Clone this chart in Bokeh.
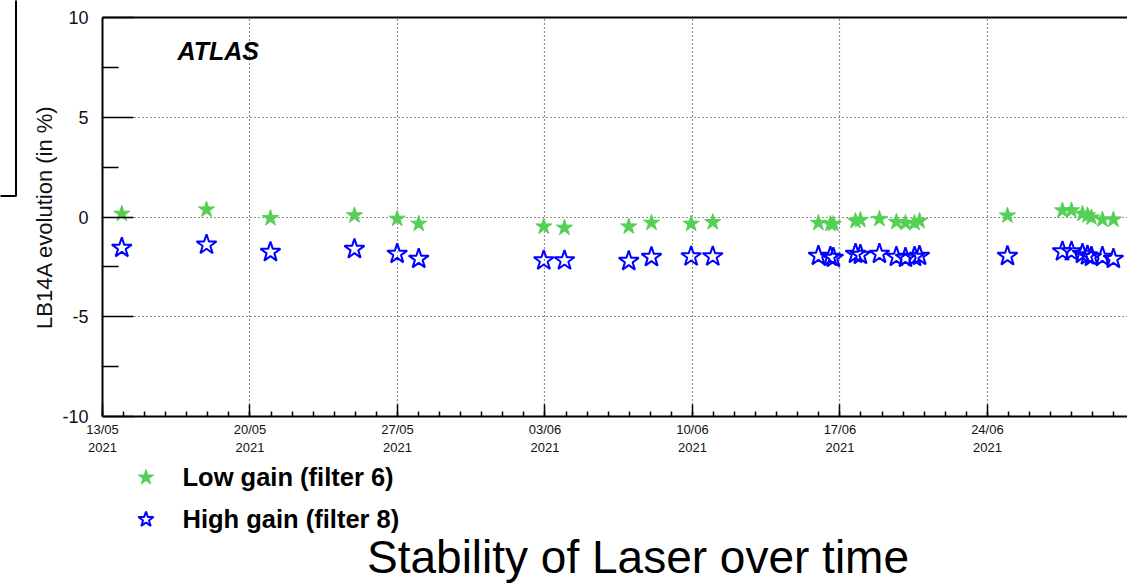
import pandas as pd
from bokeh.plotting import figure
from bokeh.layouts import row, column
from bokeh.models import (Range1d, FixedTicker, LinearAxis, Label, Legend,
                          LegendItem, BoxAnnotation, ColumnDataSource)
from bokeh.embed import file_html
from bokeh.resources import INLINE

# ---------------- data ----------------
times = [
    "2021-05-13 22:00", "2021-05-17 22:30", "2021-05-20 23:20", "2021-05-24 23:00",
    "2021-05-26 23:40", "2021-05-28 00:15", "2021-06-02 22:40", "2021-06-03 22:15",
    "2021-06-06 23:30", "2021-06-08 01:20", "2021-06-09 22:30", "2021-06-10 23:10",
    "2021-06-15 23:30", "2021-06-16 13:10", "2021-06-16 16:30", "2021-06-17 17:45",
    "2021-06-17 23:20", "2021-06-18 21:00", "2021-06-19 16:20", "2021-06-20 02:40",
    "2021-06-20 13:00", "2021-06-20 18:40", "2021-06-24 22:50", "2021-06-27 13:30",
    "2021-06-27 23:45", "2021-06-28 12:15", "2021-06-28 18:00", "2021-06-28 22:30",
    "2021-06-29 11:00", "2021-06-29 23:30",
]
low_gain = [
    0.16, 0.37, -0.06, 0.08, -0.09, -0.34, -0.48, -0.54, -0.48, -0.29,
    -0.34, -0.26, -0.30, -0.35, -0.35, -0.20, -0.15, -0.10, -0.25, -0.30,
    -0.30, -0.20, 0.07, 0.33, 0.33, 0.16, 0.08, -0.03, -0.13, -0.13,
]
high_gain = [
    -1.55, -1.39, -1.76, -1.61, -1.85, -2.10, -2.18, -2.18, -2.21, -2.01,
    -1.98, -1.98, -1.95, -2.00, -2.05, -1.85, -1.90, -1.85, -2.00, -2.05,
    -2.00, -1.95, -1.96, -1.73, -1.73, -1.85, -1.93, -2.00, -2.00, -2.10,
]
series_labels = ["Low gain (filter 6)", "High gain (filter 8)"]
tick_dates = ["2021-05-13", "2021-05-20", "2021-05-27", "2021-06-03",
              "2021-06-10", "2021-06-17", "2021-06-24"]
tick_labels = ["13/05\n2021", "20/05\n2021", "27/05\n2021", "03/06\n2021",
               "10/06\n2021", "17/06\n2021", "24/06\n2021"]
y_ticks = [-10, -5, 0, 5, 10]
y_tick_labels = ["-10", "-5", "0", "5", "10"]
x_start = "2021-05-13 00:00"
x_end = "2021-06-30 15:35"

# ---------------- helpers ----------------
def ms(s):
    return float(pd.Timestamp(s).value // 10**6)

DAY = 86400000.0
t0, t1 = ms(x_start), ms(x_end)
major_x = [ms(d) for d in tick_dates]
minor_x = [t0 + k * DAY for k in range(int((t1 - t0) // DAY) + 1)]

src = ColumnDataSource(dict(t=pd.to_datetime(times), low=low_gain, high=high_gain))

FONT = "Liberation Sans"
GREEN = "#55d055"
BLUE = "#0000ff"
LOW_STYLE = dict(marker="star", size=17, fill_color=GREEN, line_color=GREEN, line_width=1)
HIGH_STYLE = dict(marker="star", size=21, fill_alpha=0, line_color=BLUE, line_width=2)

W_CORNER = 17
W_MAIN = 1127 - W_CORNER
H_TOP = 460
H_BOT = 585 - H_TOP
FRAME_LEFT = 102

# ---- corner of a neighbouring frame (top-left of the page) ----
corner = figure(width=W_CORNER, height=585, x_axis_location=None, y_axis_location=None,
                min_border=0, toolbar_location=None, output_backend="svg",
                x_range=Range1d(0, 1), y_range=Range1d(0, 1))
corner.outline_line_color = None
corner.grid.visible = False
corner.add_layout(BoxAnnotation(left=-100, right=15.5, bottom=585 - 195.5, top=800,
                                left_units="screen", right_units="screen",
                                bottom_units="screen", top_units="screen",
                                fill_alpha=0, line_color="black", line_alpha=1.0,
                                line_width=2))

# ---- main plot ----
p = figure(width=W_MAIN, height=H_TOP, x_axis_type="datetime",
           x_range=Range1d(t0, t1), y_range=Range1d(-10, 10),
           output_backend="svg", toolbar_location=None,
           min_border_left=FRAME_LEFT - W_CORNER, min_border_right=0,
           min_border_top=17, min_border_bottom=H_TOP - 416)
p.outline_line_color = None

xa = p.xaxis[0]
xa.ticker = FixedTicker(ticks=major_x, minor_ticks=minor_x)
xa.major_label_overrides = {v: l for v, l in zip(major_x, tick_labels)}
xa.axis_line_width = 2
xa.axis_line_color = "black"
xa.major_tick_in = 12
xa.major_tick_out = 0
xa.minor_tick_in = 5
xa.minor_tick_out = 0
xa.major_tick_line_width = 1.5
xa.minor_tick_line_width = 1.5
xa.major_label_text_font = FONT
xa.major_label_text_font_size = "13px"
xa.major_label_text_color = "#111111"
xa.major_label_standoff = 5

ya = p.yaxis[0]
ya.ticker = FixedTicker(ticks=y_ticks,
                        minor_ticks=[(a + b) / 2 for a, b in zip(y_ticks[:-1], y_ticks[1:])])
ya.major_label_overrides = {v: l for v, l in zip(y_ticks, y_tick_labels)}
ya.axis_line_width = 2
ya.axis_line_color = "black"
ya.major_tick_in = 31
ya.major_tick_out = 0
ya.minor_tick_in = 16
ya.minor_tick_out = 0
ya.major_tick_line_width = 1.5
ya.minor_tick_line_width = 1.5
ya.major_label_text_font = FONT
ya.major_label_text_font_size = "18px"
ya.major_label_text_color = "#111111"
ya.major_label_standoff = 14
ya.axis_label = "LB14A evolution (in %)"
ya.axis_label_text_font = FONT
ya.axis_label_text_font_style = "normal"
ya.axis_label_text_font_size = "22px"
ya.axis_label_text_color = "#111111"
ya.axis_label_standoff = 2

top = LinearAxis(ticker=FixedTicker(ticks=[]), major_label_text_font_size="0px",
                 major_tick_out=0, major_tick_in=0, minor_tick_out=0, minor_tick_in=0,
                 axis_line_width=2, axis_line_color="black", major_label_standoff=0)
p.add_layout(top, "above")

for g in (p.xgrid[0], p.ygrid[0]):
    g.grid_line_color = "#222222"
    g.grid_line_alpha = 1.0
    g.grid_line_dash = "1 3"
    g.grid_line_width = 1.2

p.scatter("t", "low", source=src, **LOW_STYLE)
p.scatter("t", "high", source=src, **HIGH_STYLE)

p.add_layout(Label(x=75, y=366, x_units="screen", y_units="screen", text="ATLAS",
                   text_font=FONT, text_font_style="bold italic", text_font_size="25px",
                   text_baseline="alphabetic", text_color="black"))

# ---- bottom strip: legend + caption (frame aligned with the main frame) ----
q = figure(width=W_MAIN, height=H_BOT, x_axis_location=None, y_axis_location=None,
           min_border=0, toolbar_location=None, output_backend="svg",
           x_range=Range1d(0, 1), y_range=Range1d(0, 1))
q.outline_line_color = None
q.grid.visible = False
# legend proxies: same data, far outside this strip's ranges
leg_low = q.scatter("t", "low", source=src, **LOW_STYLE)
leg_high = q.scatter("t", "high", source=src, **HIGH_STYLE)

legend = Legend(items=[LegendItem(label=series_labels[0], renderers=[leg_low]),
                       LegendItem(label=series_labels[1], renderers=[leg_high])],
                location=(145 - FRAME_LEFT - 22.5, 585 - 539), orientation="vertical",
                glyph_width=45, glyph_height=40, label_height=40, label_standoff=15,
                spacing=2, padding=0, margin=0, border_line_color=None,
                background_fill_alpha=0,
                label_text_font=FONT, label_text_font_style="bold",
                label_text_font_size="25.5px", label_text_color="black")
q.add_layout(legend, "center")

q.add_layout(Label(x=637.5 - FRAME_LEFT, y=29, x_units="screen", y_units="screen",
                   text="Stability of Laser over time", text_align="center",
                   text_font=FONT, text_font_size="46px",
                   text_baseline="alphabetic", text_color="black"))

layout = row(corner, column(p, q, spacing=0), spacing=0)
open("out.html", "w").write(file_html(layout, INLINE))
